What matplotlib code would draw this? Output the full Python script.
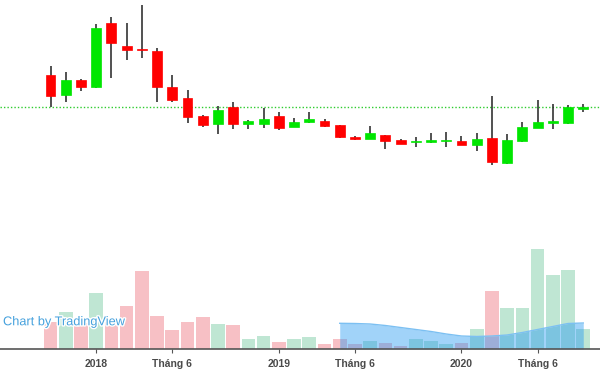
import matplotlib
matplotlib.use('Agg')
import matplotlib.pyplot as plt
import matplotlib.patheffects as pe
import numpy as np

# Monthly candles, Oct 2017 .. Sep 2020
opens = [22.5, 20.5, 22.0, 21.3, 27.7, 25.4, 25.1, 24.9, 21.3, 20.2, 18.4, 17.6,
         19.3, 17.6, 17.6, 18.4, 17.3, 17.8, 17.9, 17.5, 16.3, 16.1, 16.5, 16.0,
         15.8, 15.8, 15.9, 15.9, 15.5, 16.2, 13.7, 15.9, 17.2, 17.7, 17.7, 19.1]
highs = [23.4, 22.8, 22.1, 27.6, 28.3, 27.7, 29.5, 25.2, 22.5, 21.0, 18.5, 19.4,
         19.8, 18.0, 19.2, 18.8, 18.2, 18.8, 18.1, 17.5, 16.4, 17.4, 16.5, 16.1,
         16.3, 16.7, 16.8, 16.4, 16.7, 20.4, 16.6, 17.8, 20.0, 19.6, 19.5, 19.6]
lows = [19.3, 19.8, 20.9, 21.2, 22.2, 24.0, 24.2, 19.8, 19.8, 17.7, 17.3, 16.6,
        17.1, 17.1, 17.2, 17.0, 17.3, 17.7, 17.3, 16.2, 16.0, 16.1, 15.1, 15.6,
        15.3, 15.7, 15.3, 15.5, 14.9, 13.5, 13.6, 15.8, 17.2, 17.1, 17.6, 18.8]
closes = [20.4, 22.0, 21.3, 27.2, 25.7, 25.0, 25.0, 21.3, 20.0, 18.3, 17.5, 19.0,
          17.6, 17.9, 18.1, 17.2, 17.8, 18.1, 17.4, 16.3, 16.1, 16.7, 15.9, 15.6,
          15.9, 16.0, 16.0, 15.5, 16.1, 13.8, 16.0, 17.3, 17.8, 17.9, 19.3, 19.3]
volumes = [2.7, 3.7, 2.6, 5.6, 2.7, 4.3, 7.8, 3.3, 1.9, 2.7, 3.2, 2.5,
           2.4, 1.0, 1.3, 0.7, 1.0, 1.2, 0.5, 1.0, 0.5, 0.8, 0.6, 0.3,
           1.0, 0.8, 0.5, 0.6, 2.0, 5.8, 4.1, 4.1, 10.0, 7.4, 7.9, 2.0]
# overlay area, May 2019 .. Sep 2020
area_start = 19
area_values = [2.57, 2.55, 2.5, 2.35, 2.15, 1.95, 1.75, 1.5, 1.3, 1.25, 1.3, 1.4,
               1.65, 1.95, 2.25, 2.55, 2.6]
tick_pos = [3, 8, 15, 20, 27, 32]
tick_labels = ['2018', 'Tháng 6', '2019', 'Tháng 6', '2020', 'Tháng 6']

x = np.arange(len(opens))
up = np.array(closes) >= np.array(opens)

fig = plt.figure(figsize=(6, 3.86), dpi=100)
rect = [0, 37 / 386, 1, 349 / 386]

# volume pane
axv = fig.add_axes(rect)
vcol = ['#bfe6d3' if u else '#f7c0c5' for u in up]
axv.bar(x, volumes, width=0.9, color=vcol, zorder=1)
ax_x = np.arange(area_start, area_start + len(area_values))
axv.fill_between(ax_x, 0, area_values, color='#2196f3', alpha=0.42, lw=0, zorder=2)
axv.plot(ax_x, area_values, color='#7cc0f2', lw=1, zorder=2)
axv.set_xlim(-3.32, 36.1)
axv.set_ylim(0, 34.9)
for s in ['top', 'left', 'right']:
    axv.spines[s].set_visible(False)
axv.spines['bottom'].set_color('#555555')
axv.spines['bottom'].set_linewidth(1.2)
axv.set_yticks([])
axv.set_xticks(tick_pos)
axv.set_xticklabels(tick_labels, fontsize=7.5, color='#4a4a4a', family='Liberation Sans',
                    fontweight='bold')
axv.tick_params(axis='x', length=3, color='#555555', pad=4.5)

axv.text(0.005, 0.068, 'Chart by TradingView', transform=axv.transAxes,
         fontsize=9.2, color='#45a1dd', family='Liberation Sans', zorder=5,
         path_effects=[pe.withStroke(linewidth=2, foreground='white')])

# price pane
ax = fig.add_axes(rect, sharex=axv)
ax.patch.set_alpha(0)
ax.axis('off')
ax.set_ylim(-4.9, 30)
ax.axhline(closes[-1], color='#2ecc2e', lw=1, ls=(0, (1, 1.5)), zorder=1)
for i in range(len(x)):
    col = '#00e600' if up[i] else '#ff0000'
    ax.vlines(x[i], lows[i], highs[i], color='#222222', lw=1.1, zorder=2)
    lo = min(opens[i], closes[i])
    h = max(abs(closes[i] - opens[i]), 0.12)
    ax.bar(x[i], h, bottom=lo, width=0.65, color=col, edgecolor=col, lw=0.5, zorder=3)

fig.savefig('out.png', dpi=100)
